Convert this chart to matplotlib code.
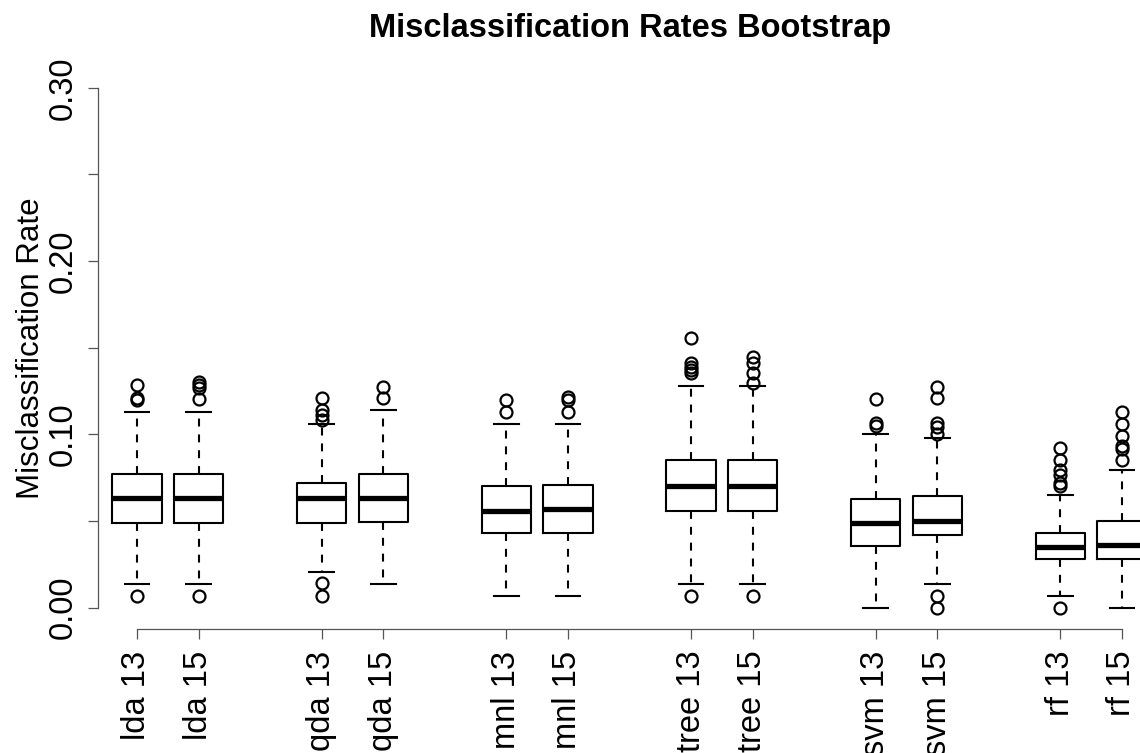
import matplotlib
matplotlib.use("Agg")
import matplotlib.pyplot as plt

plt.rcParams['font.family'] = ['Liberation Sans', 'DejaVu Sans']

# ---- data ----
methods = ["lda", "qda", "mnl", "tree", "svm", "rf"]
versions = ["13", "15"]
labels = [f"{m} {v}" for m in methods for v in versions]

whislo = [0.0137, 0.0137, 0.0208, 0.0137, 0.0068, 0.0068,
          0.0137, 0.0137, 0.0000, 0.0137, 0.0068, 0.0000]
q1 = [0.0490, 0.0490, 0.0490, 0.0496, 0.0429, 0.0429,
      0.0560, 0.0560, 0.0358, 0.0420, 0.0279, 0.0279]
med = [0.0631, 0.0631, 0.0631, 0.0631, 0.0560, 0.0570,
       0.0702, 0.0702, 0.0490, 0.0500, 0.0349, 0.0362]
q3 = [0.0770, 0.0770, 0.0718, 0.0770, 0.0702, 0.0710,
      0.0852, 0.0852, 0.0627, 0.0646, 0.0429, 0.0500]
whishi = [0.1131, 0.1131, 0.1058, 0.1141, 0.1060, 0.1060,
          0.1281, 0.1281, 0.1000, 0.0981, 0.0650, 0.0795]
fliers = [
    [0.1285, 0.1208, 0.1198, 0.0068],
    [0.1304, 0.1285, 0.1266, 0.1204, 0.0068],
    [0.1212, 0.1141, 0.1112, 0.1083, 0.0141, 0.0068],
    [0.1275, 0.1208],
    [0.1198, 0.1131],
    [0.1218, 0.1198, 0.1131],
    [0.1555, 0.1410, 0.1391, 0.1372, 0.1353, 0.0068],
    [0.1445, 0.1410, 0.1353, 0.1298, 0.0068],
    [0.1202, 0.1064, 0.1048],
    [0.1275, 0.1208, 0.1064, 0.1040, 0.1000, 0.0068, 0.0000],
    [0.0920, 0.0852, 0.0794, 0.0766, 0.0718, 0.0702, 0.0000],
    [0.1128, 0.1060, 0.0993, 0.0935, 0.0916, 0.0852],
]
yticks = [0.00, 0.05, 0.10, 0.15, 0.20, 0.25, 0.30]
ytick_labels = ["0.00", "", "0.10", "", "0.20", "", "0.30"]

# ---- layout ----
W, H = 1140, 753
fig = plt.figure(figsize=(W / 100, H / 100), dpi=100)
px_l, px_r, px_b, px_t = 98, 1162, 628.5, 67
ax = fig.add_axes([px_l / W, (H - px_b) / H, (px_r - px_l) / W, (px_b - px_t) / H])
ax.patch.set_alpha(0)

positions = [g * 3 + j + 1 for g in range(len(methods)) for j in range(len(versions))]

stats = []
for i in range(len(labels)):
    stats.append(dict(label=labels[i], med=med[i], q1=q1[i], q3=q3[i],
                      whislo=whislo[i], whishi=whishi[i], fliers=fliers[i]))

lw = 1.5
ax.bxp(stats, positions=positions, widths=0.8, capwidths=0.4,
       boxprops=dict(color="black", linewidth=lw),
       medianprops=dict(color="black", linewidth=3.8, solid_capstyle="butt"),
       whiskerprops=dict(color="black", linewidth=lw, linestyle=(0, (3.8, 3.8))),
       capprops=dict(color="black", linewidth=lw),
       flierprops=dict(marker="o", markerfacecolor="none", markeredgecolor="black",
                       markersize=8.6, markeredgewidth=1.6, linestyle="none"),
       manage_ticks=False)

ax.set_xlim(0.3665, 17.650)
ax.set_ylim(-0.012, 0.312)

for s in ["top", "right"]:
    ax.spines[s].set_visible(False)
ax.spines["left"].set_bounds(0, 0.30)
ax.spines["bottom"].set_bounds(1, 17)
for s in ["left", "bottom"]:
    ax.spines[s].set_color("#555555")
    ax.spines[s].set_linewidth(0.9)

ax.set_xticks(positions)
ax.set_xticklabels(labels, rotation=90, fontsize=23.5, va="top", ha="center")
ax.set_yticks(yticks)
ax.set_yticklabels(ytick_labels, rotation=90, fontsize=23.5, va="center", ha="right")
ax.tick_params(axis="both", length=7.5, width=0.9, color="#555555")
ax.tick_params(axis="x", pad=8.5)
ax.tick_params(axis="y", pad=6.5)

fig.text(39 / W, 1 - 348 / H, "Misclassification Rate", rotation=90,
         rotation_mode="anchor", ha="center", va="baseline", fontsize=22.5)
fig.text(630 / W, 1 - 37.5 / H, "Misclassification Rates Bootstrap",
         ha="center", va="baseline", fontsize=23.5, fontweight="bold")

fig.savefig("out.png", dpi=100)
